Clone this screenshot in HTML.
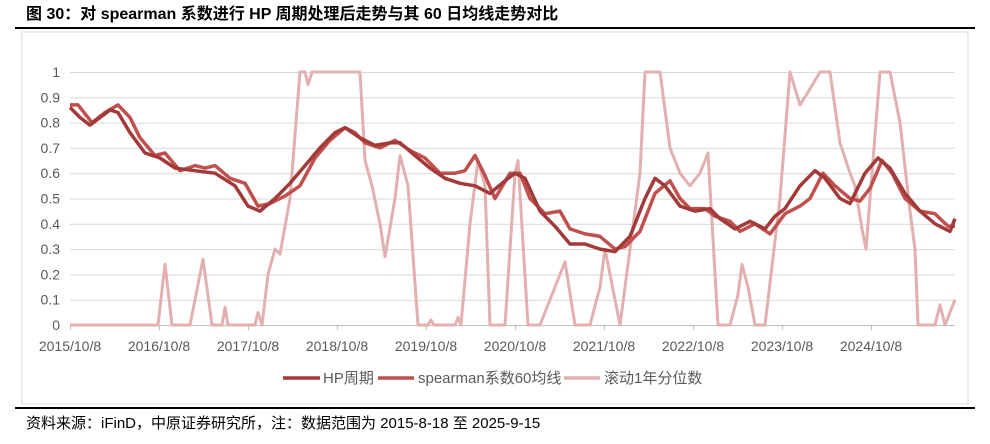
<!DOCTYPE html>
<html><head><meta charset="utf-8"><style>
body{margin:0;width:990px;height:439px;background:#fff;overflow:hidden;font-family:"Liberation Sans","Noto Sans CJK SC",sans-serif;}
</style></head><body>
<svg width="990" height="439" xmlns="http://www.w3.org/2000/svg" font-family="Liberation Sans, Noto Sans CJK SC, sans-serif">
<text x="26" y="19" font-size="16" font-weight="bold" fill="#000">图 30：对 spearman 系数进行 HP 周期处理后走势与其 60 日均线走势对比</text>
<line x1="15" y1="28" x2="975" y2="28" stroke="#000" stroke-width="2"/>
<rect x="22" y="32" width="946" height="372" fill="#fff" stroke="#d9d9d9"/>
<g id="grid" stroke="#d9d9d9" stroke-width="1"></g>
<g id="ylab" font-size="14" fill="#595959" text-anchor="end"></g>
<g id="xlab" font-size="14" fill="#595959" text-anchor="middle"></g>
<line x1="70" y1="325.5" x2="955" y2="325.5" stroke="#bfbfbf"/>
<polyline id="p3" fill="none" stroke="#e3b0b0" stroke-width="3" stroke-linejoin="round"/>
<polyline id="p2" fill="none" stroke="#c0504d" stroke-width="3.5" stroke-linejoin="round"/>
<polyline id="p1" fill="none" stroke="#a33a3a" stroke-width="3.5" stroke-linejoin="round"/>
<g font-size="15" fill="#595959">
<line x1="283" y1="378" x2="320" y2="378" stroke="#a33a3a" stroke-width="3.5"/><text x="323" y="383">HP周期</text>
<line x1="378" y1="378" x2="414" y2="378" stroke="#c0504d" stroke-width="3.5"/><text x="418" y="383">spearman系数60均线</text>
<line x1="564" y1="378" x2="600" y2="378" stroke="#e3b0b0" stroke-width="3.5"/><text x="604" y="383">滚动1年分位数</text>
</g>
<line x1="15" y1="408" x2="975" y2="408" stroke="#000" stroke-width="2"/>
<text x="26" y="428" font-size="15" fill="#000">资料来源：iFinD，中原证券研究所，注：数据范围为 2015-8-18 至 2025-9-15</text>
</svg>
<script>
var Y=v=>325-v*253;
var g=document.getElementById('grid'),yl=document.getElementById('ylab'),xl=document.getElementById('xlab');
var ns='http://www.w3.org/2000/svg';
for(var i=0;i<=10;i++){var y=Y(i/10);if(i>0){var l=document.createElementNS(ns,'line');l.setAttribute('x1',70);l.setAttribute('x2',955);l.setAttribute('y1',y+.5);l.setAttribute('y2',y+.5);g.appendChild(l);}
var t=document.createElementNS(ns,'text');t.setAttribute('x',60);t.setAttribute('y',y+5);t.textContent=i==0?'0':i==10?'1':(i/10).toFixed(1);yl.appendChild(t);}
for(var i=0;i<10;i++){var x=70+89*i;var t=document.createElementNS(ns,'text');t.setAttribute('x',x);t.setAttribute('y',351);t.textContent=(2015+i)+'/10/8';xl.appendChild(t);
var l=document.createElementNS(ns,'line');l.setAttribute('x1',x+.5);l.setAttribute('x2',x+.5);l.setAttribute('y1',325);l.setAttribute('y2',330);l.setAttribute('stroke','#bfbfbf');g.appendChild(l);}
function set(id,a){document.getElementById(id).setAttribute('points',a.map(p=>p[0]+','+Y(p[1]).toFixed(1)).join(' '));}
set('p1',[[70,.86],[80,.82],[90,.79],[100,.82],[110,.85],[118,.84],[130,.76],[145,.68],[160,.66],[175,.62],[195,.61],[215,.6],[235,.55],[248,.47],[260,.45],[275,.5],[290,.56],[305,.63],[320,.7],[335,.76],[345,.78],[360,.74],[375,.71],[390,.72],[400,.72],[415,.67],[430,.62],[445,.58],[460,.56],[475,.55],[490,.52],[505,.57],[515,.6],[525,.58],[540,.45],[555,.39],[570,.32],[585,.32],[600,.3],[615,.29],[630,.35],[645,.5],[655,.58],[665,.55],[680,.47],[695,.45],[710,.46],[720,.42],[735,.38],[750,.41],[765,.38],[775,.43],[785,.46],[800,.55],[815,.61],[825,.58],[840,.5],[850,.48],[865,.6],[878,.66],[890,.62],[905,.52],[920,.45],[935,.4],[950,.37],[955,.42]]);
set('p2',[[70,.87],[78,.87],[92,.8],[105,.84],[118,.87],[130,.82],[140,.74],[155,.67],[165,.68],[180,.61],[195,.63],[205,.62],[215,.63],[230,.58],[245,.56],[258,.47],[270,.48],[285,.51],[300,.55],[315,.66],[330,.73],[345,.78],[355,.76],[365,.72],[380,.7],[395,.73],[410,.69],[425,.66],[440,.6],[455,.6],[465,.61],[475,.67],[485,.59],[495,.5],[510,.6],[520,.6],[530,.5],[545,.44],[560,.45],[570,.38],[585,.36],[600,.35],[615,.3],[625,.31],[640,.37],[655,.52],[670,.57],[680,.5],[690,.46],[705,.46],[715,.43],[730,.41],[740,.37],[755,.4],[770,.36],[785,.44],[800,.47],[810,.5],[823,.6],[835,.55],[850,.5],[860,.49],[870,.54],[882,.65],[892,.6],[905,.5],[920,.45],[935,.44],[948,.39],[955,.39]]);
set('p3',[[70,0],[158,0],[165,.24],[172,0],[190,0],[203,.26],[212,0],[222,0],[225,.07],[228,0],[255,0],[258,.05],[262,0],[268,.2],[275,.3],[280,.28],[290,.5],[300,1],[305,1],[308,.95],[312,1],[360,1],[365,.65],[372,.55],[380,.4],[385,.27],[395,.5],[400,.67],[408,.55],[418,0],[428,0],[431,.02],[434,0],[455,0],[458,.03],[461,0],[470,.4],[478,.65],[485,.55],[490,0],[505,0],[515,.6],[518,.65],[528,0],[540,0],[555,.15],[565,.25],[575,0],[590,0],[600,.15],[605,.3],[620,0],[630,.3],[640,.6],[645,1],[660,1],[670,.7],[680,.6],[690,.55],[700,.6],[708,.68],[718,0],[730,0],[738,.12],[742,.24],[748,.15],[755,0],[765,0],[780,.5],[790,1],[800,.87],[808,.92],[820,1],[830,1],[840,.72],[850,.6],[855,.55],[862,.38],[866,.3],[872,.6],[880,1],[890,1],[900,.8],[910,.45],[915,.3],[918,0],[935,0],[940,.08],[945,0],[950,.05],[955,.1]]);
</script>
</body></html>
